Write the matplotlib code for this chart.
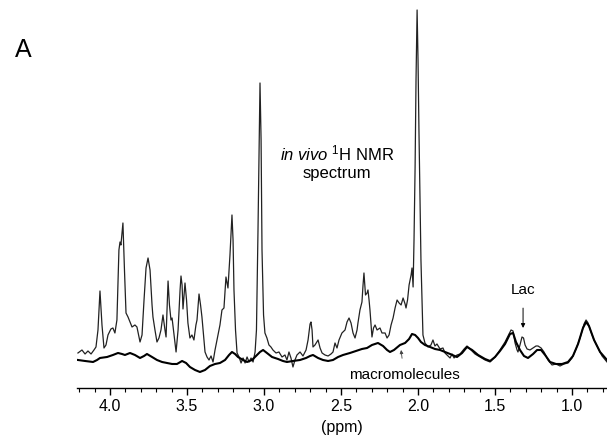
import matplotlib
matplotlib.use("Agg")
import matplotlib.pyplot as plt
from matplotlib.ticker import MultipleLocator

plt.rcParams['font.family'] = ['Liberation Sans', 'DejaVu Sans']
plt.rcParams['mathtext.fontset'] = 'custom'
plt.rcParams['mathtext.rm'] = 'Liberation Sans'
plt.rcParams['mathtext.it'] = 'Liberation Sans:italic'

# in vivo spectrum (ppm, intensity a.u.)
spec_ppm = [4.208, 4.182, 4.162, 4.143, 4.123, 4.104, 4.091, 4.078, 4.065, 4.052,
            4.039, 4.026, 4.013, 3.994, 3.981, 3.968, 3.955, 3.942, 3.935, 3.929,
            3.916, 3.906, 3.896, 3.883, 3.870, 3.857, 3.838, 3.825, 3.805, 3.792,
            3.779, 3.766, 3.753, 3.740, 3.727, 3.721, 3.708, 3.695, 3.682, 3.669,
            3.656, 3.643, 3.636, 3.630, 3.623, 3.614, 3.604, 3.597, 3.584, 3.571,
            3.558, 3.545, 3.539, 3.532, 3.526, 3.519, 3.513, 3.503, 3.494, 3.481,
            3.468, 3.455, 3.442, 3.435, 3.422, 3.412, 3.403, 3.390, 3.383, 3.370,
            3.357, 3.344, 3.331, 3.318, 3.305, 3.286, 3.273, 3.260, 3.247, 3.234,
            3.221, 3.208, 3.201, 3.195, 3.185, 3.175, 3.162, 3.149, 3.136, 3.123,
            3.110, 3.097, 3.084, 3.071, 3.058, 3.049, 3.039, 3.032, 3.026, 3.019,
            3.013, 3.003, 2.994, 2.981, 2.968, 2.955, 2.942, 2.922, 2.903, 2.883,
            2.864, 2.851, 2.838, 2.825, 2.812, 2.799, 2.786, 2.766, 2.747, 2.727,
            2.714, 2.701, 2.695, 2.688, 2.682, 2.669, 2.649, 2.636, 2.623, 2.604,
            2.584, 2.565, 2.552, 2.539, 2.526, 2.513, 2.494, 2.474, 2.461, 2.448,
            2.435, 2.422, 2.409, 2.396, 2.390, 2.377, 2.364, 2.357, 2.351, 2.341,
            2.331, 2.325, 2.318, 2.312, 2.299, 2.289, 2.279, 2.266, 2.247, 2.234,
            2.214, 2.201, 2.188, 2.175, 2.162, 2.149, 2.136, 2.123, 2.110, 2.097,
            2.084, 2.078, 2.068, 2.058, 2.045, 2.039, 2.032, 2.026, 2.019, 2.013,
            2.006, 2.000, 1.994, 1.987, 1.981, 1.974, 1.968, 1.955, 1.935, 1.916,
            1.903, 1.890, 1.877, 1.857, 1.838, 1.825, 1.805, 1.792, 1.779, 1.766,
            1.747, 1.727, 1.701, 1.682, 1.656, 1.630, 1.597, 1.565, 1.532, 1.500,
            1.468, 1.435, 1.409, 1.396, 1.383, 1.370, 1.357, 1.351, 1.338, 1.325,
            1.315, 1.305, 1.292, 1.273, 1.253, 1.234, 1.221, 1.201, 1.182, 1.156,
            1.130, 1.104, 1.078, 1.052, 1.026, 1.000, 0.974, 0.948, 0.922, 0.909,
            0.896, 0.877, 0.857, 0.831, 0.805, 0.773]
spec_int = [35, 38, 34, 37, 34, 38, 41, 58, 97, 63,
            40, 43, 53, 59, 60, 55, 68, 138, 146, 143,
            165, 118, 75, 71, 66, 61, 63, 61, 46, 53,
            88, 120, 130, 118, 83, 71, 58, 46, 50, 58,
            73, 58, 51, 78, 107, 83, 68, 70, 53, 36,
            58, 98, 112, 103, 79, 93, 105, 88, 65, 50,
            53, 48, 63, 68, 94, 83, 71, 48, 36, 31,
            28, 32, 26, 38, 48, 63, 78, 80, 111, 100,
            133, 173, 148, 98, 58, 35, 31, 25, 30, 25,
            31, 26, 30, 26, 36, 58, 158, 238, 305, 248,
            138, 73, 55, 50, 43, 41, 38, 35, 36, 31,
            33, 28, 36, 30, 21, 28, 33, 36, 32, 38,
            48, 64, 66, 58, 41, 43, 48, 40, 35, 33,
            32, 34, 36, 45, 40, 48, 55, 58, 66, 70,
            65, 55, 50, 58, 65, 78, 86, 103, 115, 93,
            95, 98, 88, 78, 51, 60, 63, 58, 60, 55,
            55, 50, 53, 63, 70, 80, 88, 85, 83, 90,
            84, 80, 88, 103, 113, 120, 101, 148, 221, 308,
            378, 328, 258, 188, 128, 88, 53, 45, 41, 43,
            48, 42, 44, 39, 40, 35, 32, 30, 34, 30,
            33, 34, 39, 42, 38, 34, 31, 28, 26, 31,
            38, 46, 54, 58, 57, 45, 38, 36, 43, 51,
            50, 43, 39, 38, 40, 42, 42, 40, 36, 28,
            23, 24, 22, 24, 25, 30, 39, 50, 64, 68,
            65, 56, 48, 40, 32, 26]

# macromolecule baseline
mm_ppm = [4.208, 4.162, 4.110, 4.084, 4.065, 4.019, 3.981, 3.948, 3.922, 3.903,
          3.870, 3.838, 3.805, 3.779, 3.760, 3.727, 3.695, 3.662, 3.630, 3.597,
          3.565, 3.532, 3.506, 3.481, 3.448, 3.416, 3.383, 3.351, 3.318, 3.286,
          3.253, 3.227, 3.208, 3.188, 3.169, 3.136, 3.110, 3.078, 3.052, 3.026,
          3.006, 2.981, 2.948, 2.909, 2.877, 2.851, 2.812, 2.766, 2.727, 2.701,
          2.682, 2.649, 2.617, 2.584, 2.552, 2.519, 2.487, 2.442, 2.403, 2.364,
          2.331, 2.299, 2.260, 2.227, 2.201, 2.182, 2.156, 2.117, 2.084, 2.058,
          2.039, 2.019, 2.000, 1.981, 1.955, 1.922, 1.890, 1.857, 1.825, 1.792,
          1.747, 1.714, 1.682, 1.649, 1.610, 1.565, 1.532, 1.500, 1.468, 1.435,
          1.403, 1.383, 1.364, 1.338, 1.312, 1.286, 1.253, 1.227, 1.201, 1.175,
          1.143, 1.104, 1.065, 1.026, 0.994, 0.961, 0.929, 0.909, 0.890, 0.857,
          0.818, 0.773]
mm_int = [28, 27, 26, 28, 30, 31, 33, 35, 34, 33,
          35, 33, 30, 32, 34, 31, 28, 26, 25, 24,
          24, 27, 25, 21, 18, 16, 18, 22, 24, 25,
          28, 33, 36, 34, 31, 28, 26, 28, 32, 36,
          38, 35, 31, 29, 27, 26, 27, 28, 30, 32,
          33, 30, 28, 27, 28, 31, 33, 35, 37, 39,
          40, 43, 45, 42, 38, 36, 38, 43, 45, 49,
          54, 53, 50, 46, 43, 41, 39, 38, 36, 34,
          31, 35, 41, 38, 33, 29, 27, 31, 37, 44,
          54, 55, 46, 38, 32, 30, 34, 38, 38, 33,
          26, 24, 24, 26, 32, 44, 60, 66, 62, 48,
          36, 28]

fig = plt.figure(figsize=(6.07, 4.42), dpi=100)
ax = fig.add_axes([0.1264, 0.1222, 0.8736, 0.8665])

ax.plot(spec_ppm, spec_int, color='#222222', lw=0.9)
ax.plot(mm_ppm, mm_int, color='black', lw=1.5)

ax.set_xlim(4.216, 0.773)
ax.set_ylim(0, 383)
for s in ['left', 'top', 'right']:
    ax.spines[s].set_visible(False)
ax.spines['bottom'].set_linewidth(1.0)
ax.set_yticks([])
ax.xaxis.set_major_locator(MultipleLocator(0.5))
ax.xaxis.set_minor_locator(MultipleLocator(0.1))
ax.tick_params(axis='x', which='major', length=5, width=1.0, labelsize=11.5, pad=3)
ax.tick_params(axis='x', which='minor', length=3, width=0.8)
ax.set_xticks([4.0, 3.5, 3.0, 2.5, 2.0, 1.5, 1.0])
ax.set_xticklabels(['4.0', '3.5', '3.0', '2.5', '2.0', '1.5', '1.0'])
ax.set_xlabel('(ppm)', fontsize=11.5, labelpad=4)

fig.text(0.555, 0.633, r'$\mathit{in\ vivo}$ $^{1}$H NMR' + '\nspectrum',
         ha='center', va='center', fontsize=12, linespacing=1.2)
fig.text(0.025, 0.887, 'A', fontsize=18, ha='left', va='center')

ax.annotate('Lac', xy=(1.318, 60), xytext=(1.318, 98), ha='center', va='center',
            fontsize=11,
            arrowprops=dict(arrowstyle='-|>', color='black', lw=0.7,
                            mutation_scale=6, shrinkA=6, shrinkB=0))
ax.annotate('macromolecules', xy=(2.110, 38), xytext=(2.091, 13), ha='center',
            va='center', fontsize=11,
            arrowprops=dict(arrowstyle='-|>', color='#444444', lw=0.6,
                            mutation_scale=5, shrinkA=5, shrinkB=0))

fig.savefig('out.png', dpi=100)
